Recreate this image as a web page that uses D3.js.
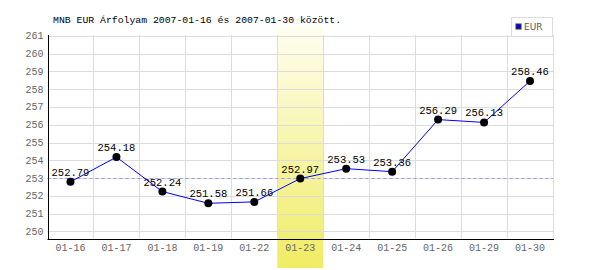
<!DOCTYPE html>
<html>
<head>
<meta charset="utf-8">
<script src="https://cdn.jsdelivr.net/npm/d3@7/dist/d3.min.js"></script>
<style>
  body { margin: 0; background: #fff; }
  svg { display: block; }
</style>
</head>
<body>
<div id="chart"></div>
<script>
const dates = ['01-16', '01-17', '01-18', '01-19', '01-22', '01-23', '01-24', '01-25', '01-26', '01-29', '01-30'];
const eurValues = [252.79, 254.18, 252.24, 251.58, 251.66, 252.97, 253.53, 253.36, 256.29, 256.13, 258.46];
const yTicks = [250, 251, 252, 253, 254, 255, 256, 257, 258, 259, 260, 261];
const refLine = 253;
const highlightDate = '01-23';
const title = 'MNB EUR Árfolyam 2007-01-16 és 2007-01-30 között.';
const seriesName = 'EUR';

const width = 600;
const height = 270;
const margin = { top: 35, right: 47, bottom: 31.5, left: 47.5 };
const mono = '"Liberation Mono", "DejaVu Sans Mono", monospace';

const svg = d3
  .select('#chart')
  .append('svg')
  .attr('width', width)
  .attr('height', height);

const x = d3
  .scaleBand()
  .domain(dates)
  .range([margin.left, width - margin.right])
  .padding(0);

const y = d3
  .scaleLinear()
  .domain([249.6, 261.05])
  .range([height - margin.bottom, margin.top]);

// highlight gradient
const grad = svg
  .append('defs')
  .append('linearGradient')
  .attr('id', 'hl')
  .attr('x1', 0)
  .attr('y1', 0)
  .attr('x2', 0)
  .attr('y2', 1);
grad.append('stop').attr('offset', '0%').attr('stop-color', '#fefef0');
grad.append('stop').attr('offset', '100%').attr('stop-color', '#f0ec64');

svg
  .append('rect')
  .attr('x', x(highlightDate))
  .attr('y', 27)
  .attr('width', x.bandwidth())
  .attr('height', 241)
  .attr('fill', 'url(#hl)');

// grid
const grid = svg.append('g').attr('stroke', '#dcdcdc').attr('stroke-width', 1);
grid
  .selectAll('line.h')
  .data(yTicks)
  .join('line')
  .attr('class', 'h')
  .attr('x1', margin.left)
  .attr('x2', width - margin.right)
  .attr('y1', (d) => Math.round(y(d)) + 0.5)
  .attr('y2', (d) => Math.round(y(d)) + 0.5);
grid
  .selectAll('line.v')
  .data(dates.slice(1).concat(['end']))
  .join('line')
  .attr('class', 'v')
  .attr('x1', (d, i) => Math.round(x.range()[0] + (i + 1) * x.step()) + 0.5)
  .attr('x2', (d, i) => Math.round(x.range()[0] + (i + 1) * x.step()) + 0.5)
  .attr('y1', margin.top)
  .attr('y2', height - margin.bottom);

// reference dashed line
svg
  .append('line')
  .attr('x1', margin.left)
  .attr('x2', width - margin.right)
  .attr('y1', Math.round(y(refLine)) + 0.5)
  .attr('y2', Math.round(y(refLine)) + 0.5)
  .attr('stroke', '#9999ff')
  .attr('stroke-dasharray', '3,3');

// axes lines
const axisY = Math.round(height - margin.bottom) + 0.5;
svg
  .append('line')
  .attr('x1', Math.round(margin.left) + 0.5)
  .attr('x2', Math.round(margin.left) + 0.5)
  .attr('y1', margin.top)
  .attr('y2', axisY)
  .attr('stroke', '#000');
svg
  .append('line')
  .attr('x1', margin.left)
  .attr('x2', width - margin.right + 1)
  .attr('y1', axisY)
  .attr('y2', axisY)
  .attr('stroke', '#000');

// y tick labels
svg
  .append('g')
  .attr('font-family', mono)
  .attr('font-size', '10px')
  .attr('fill', '#666')
  .attr('text-anchor', 'end')
  .selectAll('text')
  .data(yTicks)
  .join('text')
  .attr('x', margin.left - 4)
  .attr('y', (d) => y(d) + 3.5)
  .text((d) => d);

// x tick labels
svg
  .append('g')
  .attr('font-family', mono)
  .attr('font-size', '10px')
  .attr('fill', '#666')
  .attr('text-anchor', 'middle')
  .selectAll('text')
  .data(dates)
  .join('text')
  .attr('x', (d) => x(d) + x.bandwidth() / 2)
  .attr('y', 251)
  .text((d) => d);

// series line
const line = d3
  .line()
  .x((d, i) => x(dates[i]) + x.bandwidth() / 2)
  .y((d) => y(d));

svg
  .append('path')
  .datum(eurValues)
  .attr('fill', 'none')
  .attr('stroke', '#0000ff')
  .attr('stroke-width', 1)
  .attr('d', line);

svg
  .append('g')
  .selectAll('circle')
  .data(eurValues)
  .join('circle')
  .attr('cx', (d, i) => x(dates[i]) + x.bandwidth() / 2)
  .attr('cy', (d) => y(d))
  .attr('r', 4)
  .attr('fill', '#000');

svg
  .append('g')
  .attr('font-family', mono)
  .attr('font-size', '10.5px')
  .attr('fill', '#000')
  .attr('text-anchor', 'middle')
  .selectAll('text')
  .data(eurValues)
  .join('text')
  .attr('x', (d, i) => x(dates[i]) + x.bandwidth() / 2)
  .attr('y', (d) => y(d) - 6)
  .text((d) => d.toFixed(2));

// title
svg
  .append('text')
  .attr('x', 53)
  .attr('y', 23)
  .attr('font-family', mono)
  .attr('font-size', '9.8px')
  .attr('fill', '#000')
  .text(title);

// legend
const lg = svg.append('g').attr('transform', 'translate(511.5,17.5)');
lg.append('rect')
  .attr('width', 41)
  .attr('height', 19)
  .attr('fill', '#fff')
  .attr('stroke', '#dcdcdc');
lg.append('rect')
  .attr('x', 4.5)
  .attr('y', 6.5)
  .attr('width', 5)
  .attr('height', 5)
  .attr('fill', '#0000ff')
  .attr('stroke', '#333');
lg.append('text')
  .attr('x', 12.5)
  .attr('y', 12.5)
  .attr('font-family', '"DejaVu Sans", sans-serif')
  .attr('font-size', '9px')
  .attr('fill', '#555')
  .text(seriesName);
</script>
</body>
</html>
